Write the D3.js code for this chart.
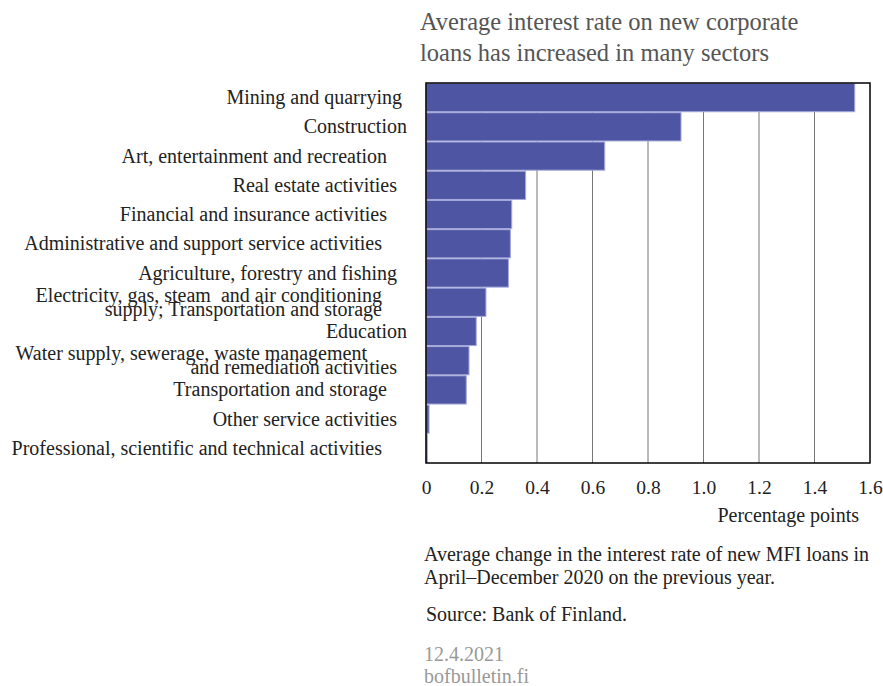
<!DOCTYPE html>
<html>
<head>
<meta charset="utf-8">
<script src="https://cdn.jsdelivr.net/npm/d3@7"></script>
<style>
  body { margin: 0; background: #fff; }
  svg text { font-family: "Liberation Serif", serif; }
</style>
</head>
<body>
<script>
// Sector labels, top to bottom (trailing spaces as in the original chart)
const sp = n => '\u00a0'.repeat(n);
const sectors = [
  ['Mining and quarrying' + sp(1)],
  ['Construction'],
  ['Art, entertainment and recreation' + sp(4)],
  ['Real estate activities' + sp(2)],
  ['Financial and insurance activities' + sp(4)],
  ['Administrative and support service activities' + sp(5)],
  ['Agriculture, forestry and fishing' + sp(2)],
  ['Electricity, gas, steam \u00a0and air conditioning' + sp(5), 'supply; Transportation and storage' + sp(5)],
  ['Education'],
  ['Water supply, sewerage, waste management' + sp(8), 'and remediation activities' + sp(2)],
  ['Transportation and storage' + sp(4)],
  ['Other service activities' + sp(2)],
  ['Professional, scientific and technical activities' + sp(5)]
];
// Average change in interest rate, percentage points
const values = [1.545, 0.919, 0.644, 0.359, 0.309, 0.304, 0.297, 0.216, 0.181, 0.155, 0.145, 0.011, 0.005];
const ticks = [0, 0.2, 0.4, 0.6, 0.8, 1.0, 1.2, 1.4, 1.6];

const width = 883, height = 686;
const plot = {left: 426, right: 870, top: 83, bottom: 463};

const svg = d3.select('body').append('svg')
  .attr('width', width)
  .attr('height', height);

const x = d3.scaleLinear().domain([0, 1.6]).range([plot.left, plot.right]);
const y = d3.scaleBand().domain(d3.range(values.length)).range([plot.top, plot.bottom]).padding(0);

// Title
svg.append('text')
  .attr('font-size', 24.5).attr('fill', '#555')
  .selectAll('tspan')
  .data(['Average interest rate on new corporate', 'loans has increased in many sectors'])
  .join('tspan')
    .attr('x', 420)
    .attr('y', (_, i) => 30 + i * 31)
    .text(d => d);

// Gridlines
svg.append('g')
  .selectAll('line')
  .data(ticks.slice(1, -1))
  .join('line')
    .attr('x1', d => x(d)).attr('x2', d => x(d))
    .attr('y1', plot.top).attr('y2', plot.bottom)
    .attr('stroke', '#777')
    .attr('stroke-width', 1);

// Bars
svg.append('g')
  .selectAll('rect')
  .data(values)
  .join('rect')
    .attr('x', x(0))
    .attr('y', (_, i) => y(i) + 0.5)
    .attr('width', d => x(d) - x(0))
    .attr('height', y.bandwidth() - 1)
    .attr('fill', '#4e55a3')
    .attr('stroke', '#a5a9dc')
    .attr('stroke-width', 1);

// Frame
svg.append('rect')
  .attr('x', plot.left).attr('y', plot.top)
  .attr('width', plot.right - plot.left).attr('height', plot.bottom - plot.top)
  .attr('fill', 'none')
  .attr('stroke', '#000')
  .attr('stroke-width', 1.5);

// Category labels
const labels = svg.append('g')
  .attr('font-size', 20)
  .attr('fill', '#222')
  .attr('text-anchor', 'end');

sectors.forEach((lines, i) => {
  const cy = y(i) + y.bandwidth() / 2;
  const t = labels.append('text');
  lines.forEach((line, j) => {
    t.append('tspan')
      .attr('x', 407)
      .attr('y', cy + 6.5 + (j - (lines.length - 1) / 2) * 14)
      .text(line);
  });
});

// X axis
const xAxis = svg.append('g')
  .attr('transform', `translate(0,${plot.bottom})`)
  .call(d3.axisBottom(x).tickValues(ticks).tickSize(0).tickPadding(17)
    .tickFormat(d => d === 0 ? '0' : d3.format('.1f')(d)));
xAxis.select('.domain').remove();
xAxis.selectAll('text')
  .attr('font-family', '"Liberation Serif", serif')
  .attr('font-size', 19.5)
  .attr('fill', '#222');

svg.append('text')
  .attr('x', 859).attr('y', 522)
  .attr('text-anchor', 'end')
  .attr('font-size', 20).attr('fill', '#222')
  .text('Percentage points');

// Notes
svg.append('text')
  .attr('font-size', 20).attr('fill', '#222')
  .selectAll('tspan')
  .data(['Average change in the interest rate of new MFI loans in', 'April\u2013December 2020 on the previous year.'])
  .join('tspan')
    .attr('x', 424)
    .attr('y', (_, i) => 561 + i * 23)
    .text(d => d);

svg.append('text')
  .attr('x', 426).attr('y', 621)
  .attr('font-size', 20).attr('fill', '#222')
  .text('Source: Bank of Finland.');

svg.append('text')
  .attr('font-size', 20).attr('fill', '#999')
  .selectAll('tspan')
  .data(['12.4.2021', 'bofbulletin.fi'])
  .join('tspan')
    .attr('x', 424)
    .attr('y', (_, i) => 661 + i * 22)
    .text(d => d);
</script>
</body>
</html>
